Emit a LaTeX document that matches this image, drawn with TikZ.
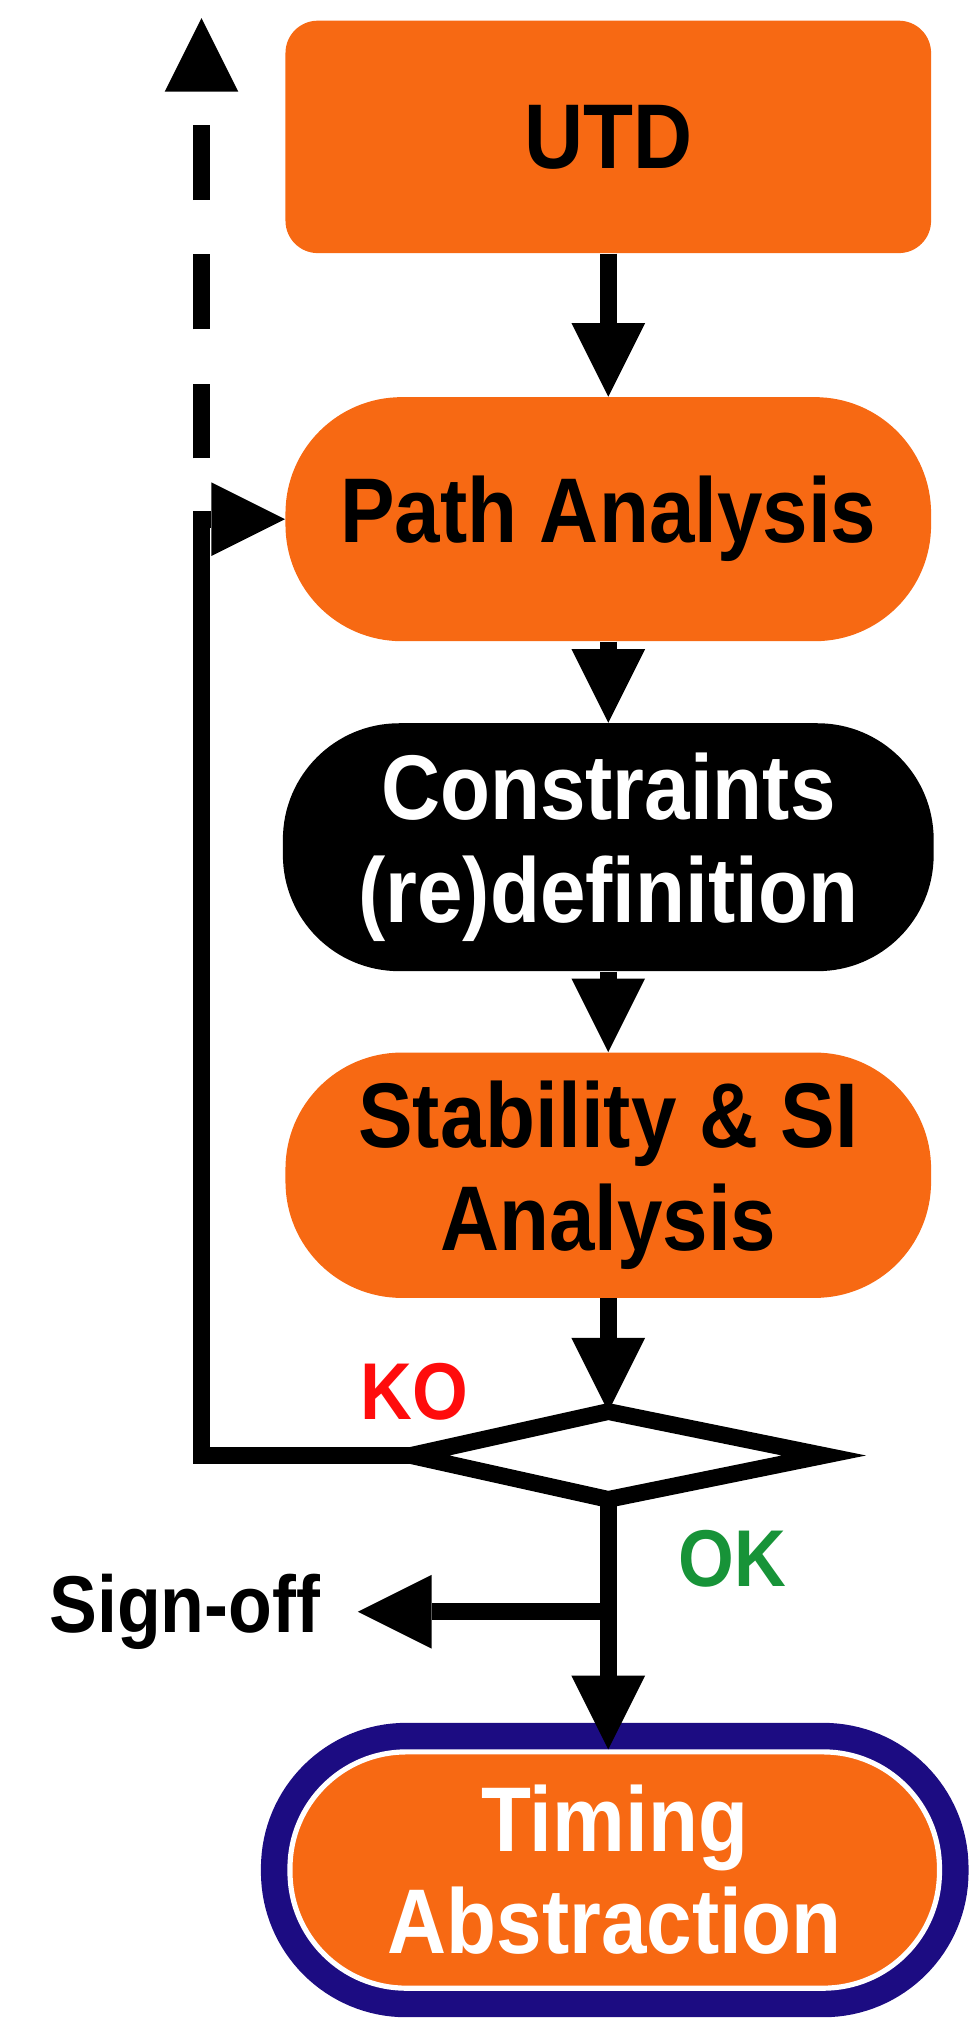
\documentclass[tikz,border=0pt]{standalone}
\usepackage{fontspec}
\setmainfont{Liberation Sans}[FakeStretch=0.89]
\usetikzlibrary{arrows.meta,positioning}
\definecolor{utdorange}{RGB}{247,105,19}
\definecolor{absblue}{RGB}{28,12,130}
\definecolor{kored}{RGB}{255,12,12}
\definecolor{okgreen}{RGB}{23,147,56}

\begin{document}
\begin{tikzpicture}[x=0.02cm, y=-0.02cm,
  font=\fontsize{40.5}{45}\selectfont\bfseries,
  flow/.style={line width=0.26cm, -{Triangle[length=1.14cm, width=1.14cm, line width=0pt]}},
  stage/.style={fill=utdorange, rounded corners=1.8cm, align=center, inner sep=0pt,
    minimum width=10cm, minimum height=3.8cm},
  lbl/.style={font=\fontsize{35.5}{40}\selectfont\bfseries, inner sep=0pt}]
\useasboundingbox (0,0) rectangle (755,1568);

% flow stages
\node (utd) [stage, rounded corners=0.5cm, minimum height=3.6cm] at (471,106) {UTD};
\node (path) [stage, minimum height=3.78cm] at (471,402) {Path Analysis};
\node (cons) [stage, fill=black, text=white, minimum width=10.08cm, minimum height=3.84cm] at (471,656) {Constraints\\(re)definition};
\node (stab) [stage, minimum height=3.8cm] at (471,910) {Stability \& SI\\Analysis};
\node (timing) [stage, minimum width=10.06cm, minimum height=3.66cm, text=white,
  draw=white, line width=0.08cm, preaction={draw=absblue, line width=0.9cm}] at (476,1448) {Timing\\Abstraction};

% decision
\coordinate (dn) at (471,1093);
\coordinate (dw) at (318,1127);
\coordinate (de) at (638,1127);
\coordinate (ds) at (471,1161);
\draw[line width=0.26cm, fill=white, line join=miter] (dn) -- (de) -- (ds) -- (dw) -- cycle;

% labels
\node (ko) [lbl, text=kored] at (321,1078) {KO};
\node (ok) [lbl, text=okgreen] at (567,1207) {OK};
\node (signoff) [lbl, inner xsep=0.58cm] at (143,1248) {Sign-off};

% connectors
\draw[flow] (utd) -- (path);
\draw[flow] (path) -- (cons);
\draw[flow] (cons) -- (stab);
\draw[flow] (stab) -- (dn);
\draw[flow] (ds) -- (ds |- timing.north);
\draw[flow] (dw) -- ++(-162,0) |- (path.west);
\coordinate (split) at (471,1248);
\draw[flow] (split) -- (signoff.east);
\coordinate (loopup) at (156,355);
\coordinate (prev) at (156,14);
\draw[flow, dash pattern=on 1.16cm off 0.84cm] (loopup) -- (prev);
\end{tikzpicture}
\end{document}
